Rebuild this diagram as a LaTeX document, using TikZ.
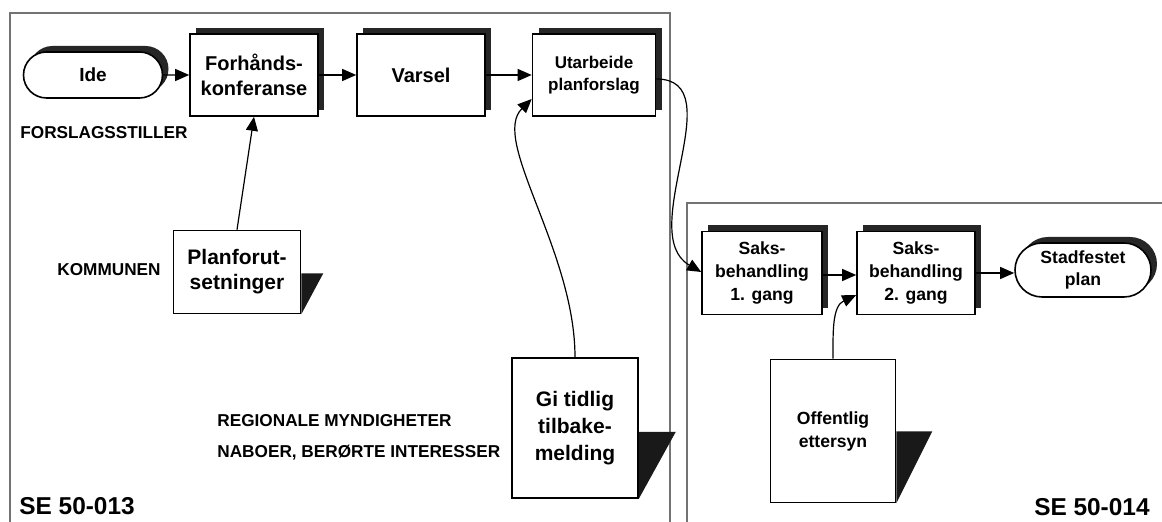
\documentclass[tikz,border=0pt]{standalone}
\usepackage{fontspec}
\setmainfont{Liberation Sans}
\usetikzlibrary{shapes.misc, shadows, arrows.meta}
\tikzstyle{proc} = [rectangle, draw=black, thick, fill=white, align=center, inner sep=1pt, drop shadow={shadow xshift=3.2pt, shadow yshift=3.2pt, fill=black!85, opacity=1}]
\tikzstyle{term} = [rounded rectangle, draw=black, thick, fill=white, align=center, inner sep=1pt, drop shadow={shadow xshift=3pt, shadow yshift=3pt, fill=black!85, opacity=1}]
\tikzstyle{doc} = [rectangle, draw=black, thick, fill=white, align=center, inner sep=1pt]
\tikzstyle{lbl} = [anchor=west, inner sep=0pt, font=\bfseries\fontsize{8.6}{10}\selectfont]
\tikzstyle{arrow} = [semithick, -{Triangle[length=7pt,width=6pt]}]
\tikzstyle{frame} = [black!55, line width=0.8pt]
\newcommand{\fnt}[2]{\bfseries\fontsize{#1}{#2}\selectfont}
% dark flap at the lower right of a document box
\newcommand{\docflap}[3]{\fill[black!90] ([yshift=#2]#1.south east) -- ++(#3,0) -- (#1.south east) -- cycle;}

\begin{document}
\begin{tikzpicture}[x=0.5pt, y=-0.5pt, node distance=82pt]
\useasboundingbox (0,0) rectangle (1162,522);

% panels
\draw[frame] (10,522) -- (10,13) -- (670,13) -- (670,522);
\draw[frame] (687,522) -- (687,203) -- (1162,203);

% forslagsstiller
\node (ide) [term, minimum width=71.5pt, minimum height=23pt, font=\fnt{9.5}{11}] at (93,75) {Ide};
\node (forh) [proc, right of=ide, node distance=80.5pt, minimum width=64pt, minimum height=41pt, font=\fnt{10}{12.5}] {Forhånds-\\konferanse};
\node (varsel) [proc, right of=forh, node distance=83.5pt, minimum width=64pt, minimum height=41pt, font=\fnt{10}{12.5}] {Varsel};
\node (utarb) [proc, right of=varsel, node distance=86.5pt, minimum width=61.5pt, minimum height=41pt, font=\fnt{8.5}{11}] {Utarbeide\\planforslag};

% kommunen / myndigheter
\node (planf) [doc, minimum width=63.5pt, minimum height=41.5pt, font=\fnt{10.5}{12.5}] at (237,272) {Planforut-\\setninger};
\node (gitid) [doc, minimum width=63pt, minimum height=70pt, font=\fnt{10.5}{13.5}] at (575,428) {Gi tidlig\\tilbake-\\melding};
\docflap{planf}{20.5pt}{11pt}
\docflap{gitid}{33.5pt}{18.5pt}

% saksbehandling
\node (saks1) [proc, minimum width=60pt, minimum height=41.5pt, font=\fnt{8.8}{11.3}] at (762,273) {Saks-\\behandling\\1. gang};
\node (saks2) [proc, right of=saks1, node distance=77pt, minimum width=59pt, minimum height=41.5pt, font=\fnt{8.8}{11.3}] {Saks-\\behandling\\2. gang};
\node (stadf) [term, minimum width=70pt, minimum height=27pt, font=\fnt{8.8}{11}] at (1083,270) {Stadfestet\\plan};
\node (offent) [doc, minimum width=62.5pt, minimum height=71.5pt, font=\fnt{8.8}{11.5}] at (833,431) {Offentlig\\ettersyn};
\docflap{offent}{36pt}{18pt}

% labels
\node (forsl) [lbl] at (20,133) {FORSLAGSSTILLER};
\node (kommun) [lbl] at (57,270) {KOMMUNEN};
\node (region) [lbl] at (217,421) {REGIONALE MYNDIGHETER};
\node (nabo) [lbl] at (217,453) {NABOER, BERØRTE INTERESSER};
\node (se13) [lbl, font=\fnt{12.2}{15}] at (19,506) {SE 50-013};
\node (se14) [lbl, anchor=east, font=\fnt{12.2}{15}] at (1150,507) {SE 50-014};

\draw [arrow] (ide) -- (forh.west |- ide);
\draw [arrow] (forh) -- (varsel);
\draw [arrow] (varsel) -- (utarb);
\draw [arrow] (planf.north) -- (forh.south);
\draw [arrow] (gitid.north) .. controls (575,250) and (490,140) .. ([yshift=-12pt]utarb.west);
\draw [arrow] ([yshift=-2pt]utarb.east) to [out=0, in=150] ([yshift=0.5pt]saks1.west);
\draw [arrow] ([yshift=-1pt]saks1.east) -- ([yshift=-1pt]saks2.west);
\draw [arrow] (offent.north) to [out=90, in=205] ([yshift=-11pt]saks2.west);
\draw [arrow] (saks2.east) -- (stadf.west |- saks2.east);

\end{tikzpicture}
\end{document}
